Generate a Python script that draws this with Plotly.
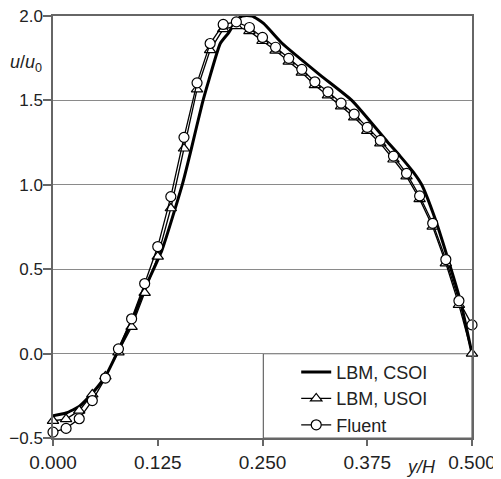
import plotly.graph_objects as go

# marker abscissae y/H
y_over_H = [0.0, 0.0156, 0.0313, 0.0469, 0.0625, 0.0781, 0.0938, 0.1094, 0.125,
            0.1406, 0.1563, 0.1719, 0.1875, 0.2031, 0.2188, 0.2344, 0.25, 0.2656,
            0.2813, 0.2969, 0.3125, 0.3281, 0.3438, 0.3594, 0.375, 0.3906, 0.4063,
            0.4219, 0.4375, 0.4531, 0.4688, 0.4844, 0.5]

usoi_u = [-0.398, -0.388, -0.338, -0.242, -0.135, 0.007, 0.158, 0.360, 0.575,
          0.861, 1.215, 1.565, 1.798, 1.922, 1.940, 1.910, 1.852, 1.795, 1.730,
          1.665, 1.590, 1.530, 1.465, 1.400, 1.320, 1.245, 1.150, 1.050, 0.915,
          0.752, 0.535, 0.289, 0.0]

fluent_u = [-0.465, -0.443, -0.386, -0.278, -0.145, 0.028, 0.206, 0.415, 0.634,
            0.930, 1.281, 1.604, 1.837, 1.950, 1.965, 1.932, 1.873, 1.815, 1.749,
            1.684, 1.610, 1.551, 1.484, 1.419, 1.340, 1.263, 1.170, 1.068, 0.934,
            0.772, 0.557, 0.313, 0.170]

# LBM, CSOI continuous curve
csoi_x = [0.0, 0.0156, 0.0313, 0.047, 0.0625, 0.078, 0.094, 0.109, 0.130, 0.1547,
          0.1647, 0.178, 0.186, 0.1996, 0.2095, 0.2175, 0.2255, 0.2375, 0.2513,
          0.273, 0.3188, 0.3566, 0.399, 0.4142, 0.430, 0.440, 0.4559, 0.4698,
          0.4857, 0.5]
csoi_u = [-0.368, -0.352, -0.313, -0.234, -0.135, 0.02, 0.19, 0.38, 0.613, 1.009,
          1.206, 1.48, 1.62, 1.837, 1.90, 1.965, 2.0, 2.0, 1.956, 1.84, 1.65, 1.5,
          1.255, 1.17, 1.075, 1.0, 0.80, 0.585, 0.32, 0.0]

x_ticks = [0.0, 0.125, 0.25, 0.375, 0.5]
x_labels = ["0.000", "0.125", "0.250", "0.375", "0.500"]
y_ticks = [-0.5, 0.0, 0.5, 1.0, 1.5, 2.0]
y_labels = ["\u22120.5", "0.0", "0.5", "1.0", "1.5", "2.0"]

FONT = "Liberation Sans, Arial, sans-serif"
TXT = "#222222"
GRID = "#8a8a8a"

# page body has an 8px default margin; figure coordinates below are screen - 8
OFF = 8
L, R_EDGE, T, B_EDGE = 52.5 - OFF, 472 - OFF, 15.7 - OFF, 438.3 - OFF
W, H = 501 - OFF, 479 - OFF
PW, PH = R_EDGE - L, B_EDGE - T

def px(xs):
    return (xs - OFF - L) / PW

def py(ys):
    return (B_EDGE - (ys - OFF)) / PH

fig = go.Figure()
fig.add_trace(go.Scatter(
    x=csoi_x, y=csoi_u, mode="lines", name="LBM, CSOI",
    line=dict(color="black", width=3, shape="spline", smoothing=0.5),
    cliponaxis=False))
fig.add_trace(go.Scatter(
    x=y_over_H, y=usoi_u, mode="lines+markers", name="LBM, USOI",
    line=dict(color="black", width=1.3),
    marker=dict(symbol="triangle-up", size=10, color="white",
                line=dict(color="black", width=1.2)),
    cliponaxis=False))
fig.add_trace(go.Scatter(
    x=y_over_H, y=fluent_u, mode="lines+markers", name="Fluent",
    line=dict(color="black", width=1.3),
    marker=dict(symbol="circle", size=10, color="white",
                line=dict(color="black", width=1.2)),
    cliponaxis=False))

# legend frame
fig.add_shape(type="rect", xref="x", yref="y", x0=0.251, x1=0.5, y0=-0.5, y1=0.0,
              line=dict(color="#666666", width=1.2), fillcolor="white", layer="below")

fig.add_annotation(text="<i>y/H</i>", xref="paper", yref="paper",
                   x=px(421), y=py(467), xanchor="center", yanchor="middle",
                   showarrow=False, font=dict(family=FONT, size=18, color=TXT))
fig.add_annotation(text="<i>u</i>/<i>u</i><sub>0</sub>", xref="paper", yref="paper",
                   x=px(25), y=py(63), xanchor="center", yanchor="middle",
                   showarrow=False, font=dict(family=FONT, size=18, color=TXT))

fig.update_layout(
    width=W, height=H,
    margin=dict(l=L, r=W - R_EDGE, t=T, b=H - B_EDGE, pad=0, autoexpand=False),
    paper_bgcolor="white", plot_bgcolor="white",
    showlegend=True,
    legend=dict(x=px(296), y=py(354), xanchor="left", yanchor="top",
                bgcolor="rgba(0,0,0,0)", borderwidth=0,
                font=dict(family=FONT, size=18, color=TXT)),
    xaxis=dict(range=[0, 0.5], tickvals=x_ticks, ticktext=x_labels, automargin=False,
               ticklabeloverflow="allow",
               showgrid=False, zeroline=False, showline=True, linecolor="#666666",
               linewidth=1.5, mirror=True, ticks="outside", ticklen=6,
               tickcolor="#666666", tickwidth=1.5,
               tickfont=dict(family=FONT, size=19, color=TXT)),
    yaxis=dict(range=[-0.5, 2.0], tickvals=y_ticks, ticktext=y_labels, automargin=False,
               ticklabeloverflow="allow", ticklabelstandoff=-3,
               showgrid=True, gridcolor=GRID, gridwidth=1.2, zeroline=False,
               showline=True, linecolor="#666666", linewidth=1.5, mirror=True,
               ticks="outside", ticklen=8, tickcolor="#666666", tickwidth=1.5,
               tickfont=dict(family=FONT, size=17, color=TXT)),
)

fig.write_html("out.html")
